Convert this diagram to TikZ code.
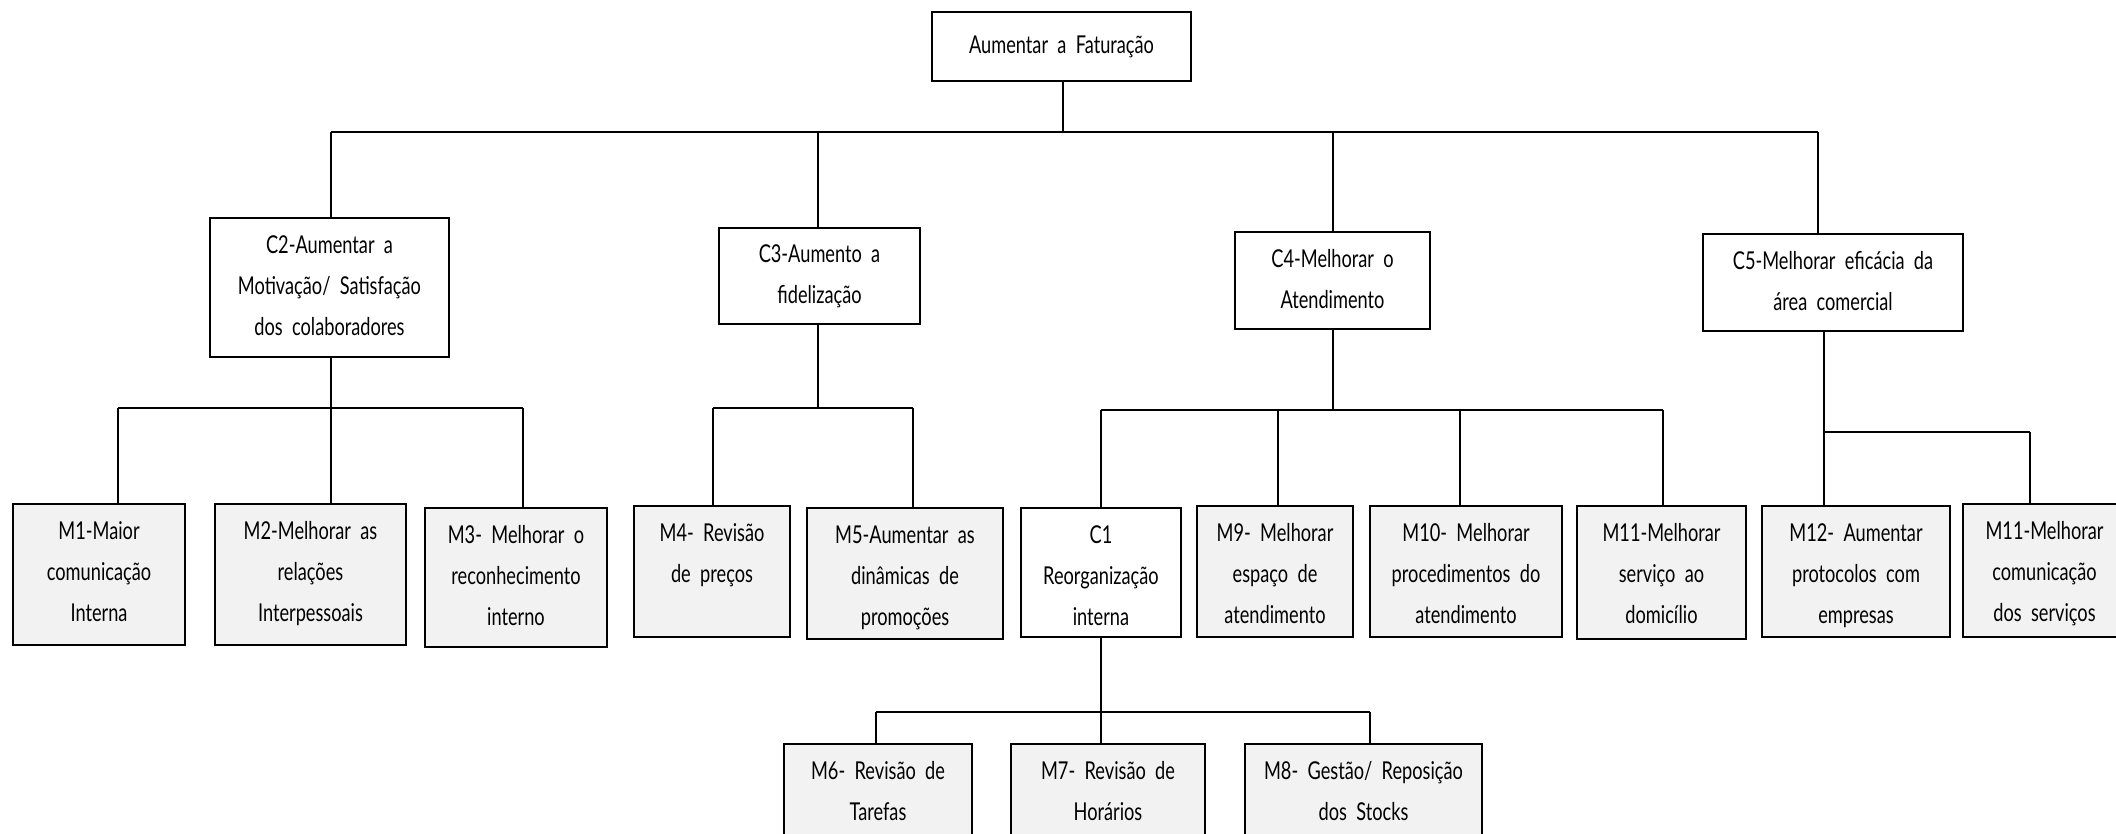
\documentclass[tikz,border=0pt]{standalone}
\usepackage{fontspec}
\setmainfont{Lato}[FakeStretch=0.74,WordSpace=2.0]
\usetikzlibrary{fit}
\tikzset{
  x=0.5pt, y=-0.5pt,
  boxc/.style={draw=black, line width=1pt, inner sep=0pt, fill=white},
  boxm/.style={draw=black, line width=1pt, inner sep=0pt, fill=boxgray},
  txt/.style={inner sep=0pt, align=center, font=\fontsize{12.3}{20.6}\selectfont},
  link/.style={draw=black, line width=0.8pt},
}
\definecolor{boxgray}{HTML}{F2F2F2}
\newcommand{\topbox}[7]{%
  \node[#6, fit={(#2,#3)(#4,#5)}] (#1) {};
  \node[txt, anchor=north] (#1-t) at ([yshift=-3.5pt]#1.north) {\strut #7};}
\newcommand{\cenbox}[7]{%
  \node[#6, fit={(#2,#3)(#4,#5)}] (#1) {};
  \node[txt, anchor=center] (#1-t) at ([yshift=0.5pt]#1.center) {\strut #7\strut};}
\begin{document}
\begin{tikzpicture}
\useasboundingbox (0,0) rectangle (2116,834);
\clip (0,0) rectangle (2116,834);
% level 0 and 1
\cenbox{top}{932}{12}{1191}{81}{boxc}{Aumentar a Faturação}
\cenbox{C2}{210}{218}{449}{357}{boxc}{C2-Aumentar a\\Motivação/ Satisfação\\dos colaboradores}
\cenbox{C3}{719}{228}{920}{324}{boxc}{C3-Aumento a\\fidelização}
\cenbox{C4}{1235}{232}{1430}{329}{boxc}{C4-Melhorar o\\Atendimento}
\cenbox{C5}{1703}{234}{1963}{331}{boxc}{C5-Melhorar eficácia da\\área comercial}
% level 2
\topbox{M1}{13}{504}{185}{645}{boxm}{M1-Maior\\comunicação\\Interna}
\topbox{M2}{215}{504}{406}{645}{boxm}{M2-Melhorar as\\relações\\Interpessoais}
\topbox{M3}{425}{508}{607}{647}{boxm}{M3- Melhorar o\\reconhecimento\\interno}
\topbox{M4}{634}{506}{790}{637}{boxm}{M4- Revisão\\de preços}
\topbox{M5}{807}{508}{1003}{639}{boxm}{M5-Aumentar as\\dinâmicas de\\promoções}
\topbox{C1}{1021}{508}{1181}{637}{boxc}{C1\\Reorganização\\interna}
\topbox{M9}{1197}{506}{1353}{637}{boxm}{M9- Melhorar\\espaço de\\atendimento}
\topbox{M10}{1370}{506}{1562}{637}{boxm}{M10- Melhorar\\procedimentos do\\atendimento}
\topbox{M11}{1577}{506}{1746}{639}{boxm}{M11-Melhorar\\serviço ao\\domicílio}
\topbox{M12}{1762}{506}{1950}{637}{boxm}{M12- Aumentar\\protocolos com\\empresas}
\topbox{M11b}{1963}{504}{2126}{637}{boxm}{M11-Melhorar\\comunicação\\dos serviços}
% level 3
\topbox{M6}{784}{744}{972}{880}{boxm}{M6- Revisão de\\Tarefas}
\topbox{M7}{1011}{744}{1205}{880}{boxm}{M7- Revisão de\\Horários}
\topbox{M8}{1245}{744}{1482}{880}{boxm}{M8- Gestão/ Reposição\\dos Stocks}
% junction coordinates
\coordinate (b0) at (1063,132);
\coordinate (b0L) at (331,132);
\coordinate (b0R) at (1818,132);
\coordinate (jC3) at (818,132);
\coordinate (jC4) at (1333,132);
\coordinate (b2) at (331,408);
\coordinate (b2L) at (118,408);
\coordinate (b2R) at (523,408);
\coordinate (b3) at (818,408);
\coordinate (b3L) at (713,408);
\coordinate (b3R) at (913,408);
\coordinate (b4) at (1333,410);
\coordinate (b4L) at (1101,410);
\coordinate (j9) at (1278,410);
\coordinate (j10) at (1460,410);
\coordinate (b4R) at (1663,410);
\coordinate (b5) at (1824,432);
\coordinate (b5R) at (2030,432);
\coordinate (b1) at (1101,712);
\coordinate (b1L) at (876,712);
\coordinate (b1R) at (1370,712);
% connectors
\draw[link] (b0 |- top.south) -- (b0);
\draw[link] (b0L) -- (b0R);
\draw[link] (b0L) -- (b0L |- C2.north);
\draw[link] (jC3) -- (jC3 |- C3.north);
\draw[link] (jC4) -- (jC4 |- C4.north);
\draw[link] (b0R) -- (b0R |- C5.north);
\draw[link] (b2 |- C2.south) -- (b2);
\draw[link] (b2L) -- (b2R);
\draw[link] (b2L) -- (b2L |- M1.north);
\draw[link] (b2) -- (b2 |- M2.north);
\draw[link] (b2R) -- (b2R |- M3.north);
\draw[link] (b3 |- C3.south) -- (b3);
\draw[link] (b3L) -- (b3R);
\draw[link] (b3L) -- (b3L |- M4.north);
\draw[link] (b3R) -- (b3R |- M5.north);
\draw[link] (b4 |- C4.south) -- (b4);
\draw[link] (b4L) -- (b4R);
\draw[link] (b4L) -- (b4L |- C1.north);
\draw[link] (j9) -- (j9 |- M9.north);
\draw[link] (j10) -- (j10 |- M10.north);
\draw[link] (b4R) -- (b4R |- M11.north);
\draw[link] (b5 |- C5.south) -- (b5 |- M12.north);
\draw[link] (b5) -- (b5R);
\draw[link] (b5R) -- (b5R |- M11b.north);
\draw[link] (b1 |- C1.south) -- (b1 |- M7.north);
\draw[link] (b1L) -- (b1R);
\draw[link] (b1L) -- (b1L |- M6.north);
\draw[link] (b1R) -- (b1R |- M8.north);
\end{tikzpicture}
\end{document}
